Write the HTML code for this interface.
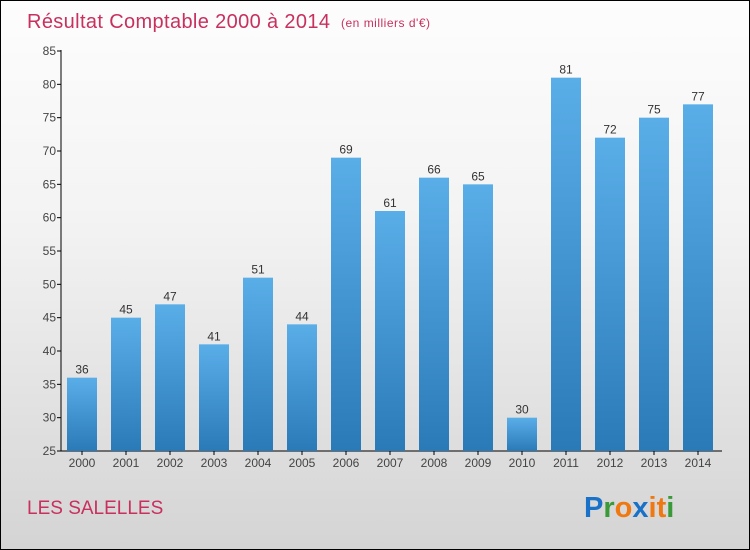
<!DOCTYPE html>
<html><head><meta charset="utf-8"><style>
body{margin:0}
#c{width:748px;height:548px;border:1px solid #000;background:linear-gradient(#fdfdfd,#f3f3f3 40%,#d4d4d4);position:relative;font-family:"Liberation Sans",sans-serif;overflow:hidden}
</style></head><body>
<div id="c">
<svg id="s" width="748" height="548">
<defs><linearGradient id="g" x1="0" y1="0" x2="0" y2="1"><stop offset="0" stop-color="#5aaee8"/><stop offset="1" stop-color="#2a7ab8"/></linearGradient></defs>
<text x="26" y="27" font-size="20" fill="#c8305e" textLength="303">Résultat Comptable 2000 à 2014</text>
<text x="340" y="26" font-size="12" fill="#c8305e" textLength="89">(en milliers d'€)</text>
<text x="26" y="513" font-size="19" fill="#c8305e">LES SALELLES</text>
<g font-size="29" font-weight="bold" font-family="Liberation Sans,sans-serif"><text x="583" y="516"><tspan fill="#1a72c8">P</tspan><tspan fill="#3a9a3a">r</tspan><tspan fill="#f07810">o</tspan><tspan fill="#1a72c8">x</tspan><tspan fill="#f07810">i</tspan><tspan fill="#f07810">t</tspan><tspan fill="#3a9a3a">i</tspan></text></g>
<g id="plot"></g>
</svg></div>
<script>
const years=["2000","2001","2002","2003","2004","2005","2006","2007","2008","2009","2010","2011","2012","2013","2014"];
const values=[36,45,47,41,51,44,69,61,66,65,30,81,72,75,77];
const ticks=[25,30,35,40,45,50,55,60,65,70,75,80,85];
const NS="http://www.w3.org/2000/svg",p=document.getElementById('plot');
const y=v=>450-(v-25)*400/60, x=i=>81+i*44;
function mk(t,a){const e=document.createElementNS(NS,t);for(const k in a)e.setAttribute(k,a[k]);p.appendChild(e);return e;}
let e=mk('line',{x1:60,y1:49,x2:60,y2:450,stroke:'#000'});

e=mk('line',{x1:60,y1:450,x2:721,y2:450,stroke:'#000'});

ticks.forEach(t=>{
 e=mk('line',{x1:56,x2:60,y1:y(t),y2:y(t),stroke:'#000'});
 
 e=mk('text',{x:55,y:y(t)+4,'font-size':12,fill:'#444','text-anchor':'end'});e.textContent=t;
 
});
values.forEach((v,i)=>{
 e=mk('rect',{x:x(i)-15,y:y(v),width:30,height:450-y(v),fill:'url(#g)'});
 
 e=mk('text',{x:x(i),y:y(v)-4,'font-size':12,fill:'#333','text-anchor':'middle'});e.textContent=v;
 
 e=mk('line',{x1:x(i),x2:x(i),y1:450,y2:454,stroke:'#000'});
 
 e=mk('text',{x:x(i),y:466,'font-size':12,fill:'#444','text-anchor':'middle'});e.textContent=years[i];
 
});
</script>
</body></html>
